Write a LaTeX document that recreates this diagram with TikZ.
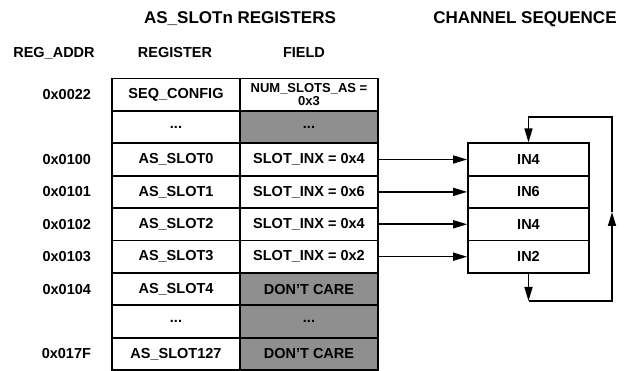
\documentclass[tikz,border=0pt]{standalone}
\usepackage{fontspec}
\setmainfont{Liberation Sans}
\usetikzlibrary{arrows.meta}
\definecolor{cellgray}{RGB}{143,143,143}
\tikzset{
  txt/.style={font=\fontsize{14.5}{15}\selectfont\bfseries},
  ttl/.style={font=\fontsize{17}{18}\selectfont\bfseries},
  cell/.style={txt, draw, line width=1.7pt, inner sep=0pt, minimum height=32.4pt},
  regcell/.style={cell, minimum width=128pt},
  fldcell/.style={cell, minimum width=138pt},
  chcell/.style={cell, minimum width=121pt},
  seqarrow/.style={line width=1.6pt, -{Triangle[length=14pt,width=8pt]}}
}
\begin{document}
\begin{tikzpicture}[x=1pt,y=-1pt]
\useasboundingbox (0,0) rectangle (633,371);

% headings
\node[ttl] (ttlreg) at (240,19) {AS\_SLOTn REGISTERS};
\node[ttl] (ttlseq) at (525,19) {CHANNEL SEQUENCE};
\node[txt] (hdaddr) at (54,53) {REG\_ADDR};
\node[txt] (hdreg) at (175,53) {REGISTER};
\node[txt] (hdfld) at (304,53) {FIELD};

% register table
\node[regcell] (reg0) at (176,94.7) {SEQ\_CONFIG};
\node[fldcell, align=center, font=\fontsize{13}{12.5}\selectfont\bfseries] (fld0) at (309,94.7) {NUM\_SLOTS\_AS =\\0x3};
\foreach \i/\reg/\fld/\shade in {
    1/{...}/{...}/cellgray,
    2/AS\_SLOT0/{SLOT\_INX = 0x4}/white,
    3/AS\_SLOT1/{SLOT\_INX = 0x6}/white,
    4/AS\_SLOT2/{SLOT\_INX = 0x4}/white,
    5/AS\_SLOT3/{SLOT\_INX = 0x2}/white,
    6/AS\_SLOT4/{DON’T CARE}/cellgray,
    7/{...}/{...}/cellgray,
    8/AS\_SLOT127/{DON’T CARE}/cellgray} {
    \node[regcell] (reg\i) at (176,{94.7+32.4*\i}) {\reg};
    \node[fldcell, fill=\shade] (fld\i) at (309,{94.7+32.4*\i}) {\fld};
}

% addresses
\foreach \i/\addr in {0/0x0022,2/0x0100,3/0x0101,4/0x0102,5/0x0103,6/0x0104,8/0x017F} {
    \node[txt, anchor=east] (addr\i) at (94.5,{94.7+32.4*\i}) {\addr};
}

% channel sequence
\foreach \j/\ch in {0/IN4,1/IN6,2/IN4,3/IN2} {
    \node[chcell] (ch\j) at (528.5,{94.7+32.4*(\j+2)}) {\ch};
    \pgfmathtruncatemacro{\k}{\j+2}
    \draw[seqarrow] (fld\k.east) -- (ch\j.west);
}

% loop back
\coordinate (loopbot) at (528.5,301);
\coordinate (loopmid) at (612,212);
\coordinate (looptop) at (528.5,117);
\draw[seqarrow] (ch3.south) -- (loopbot);
\draw[seqarrow] (loopbot) -| (loopmid);
\draw[seqarrow] (loopmid) |- (looptop) -- (ch0.north);
\end{tikzpicture}
\end{document}
